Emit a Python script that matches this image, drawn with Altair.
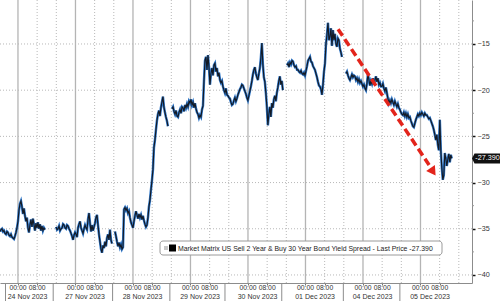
import altair as alt
import pandas as pd

# ---------------- data ----------------
# compressed trading-time axis: hours since 24 Nov 2023 00:00 (weekend removed)
day_labels = ["24 Nov 2023", "27 Nov 2023", "28 Nov 2023", "29 Nov 2023",
              "30 Nov 2023", "01 Dec 2023", "04 Dec 2023", "05 Dec 2023"]
time_labels = ["00:00", "08:00"]
session_breaks = [-5.2, 14.7, 39.5, 63.4, 86.4, 110.1, 135.8, 159.4]
seg_start_hours = [-7.5, 15.9, 40.5, 64.3, 112.3, 136.9]
bar_minutes = 25

seg_a = [-35.3, -35.1, -35.0, -35.3, -35.2, -35.5, -35.6, -35.3, -35.4, -35.7,
         -35.8, -35.6, -35.9, -36.0, -36.1, -35.8, -35.4, -34.9, -34.2, -33.0,
         -32.3, -32.0, -32.6, -33.4, -32.8, -33.6, -34.2, -33.8, -34.9, -35.4,
         -34.6, -34.0, -34.8, -33.9, -34.5, -35.2, -34.4, -34.9, -34.3, -35.0,
         -34.5, -35.2, -34.7, -35.2, -34.9, -35.1]
seg_b = [-34.8, -35.1, -35.0, -34.7, -35.2, -35.0, -34.9, -34.5, -34.6, -34.9,
         -35.0, -34.6, -34.7, -35.0, -35.2, -35.5, -35.8, -36.2, -35.7, -35.4,
         -35.6, -35.9, -34.9, -34.5, -34.2, -34.9, -35.2, -35.5, -35.0, -34.6,
         -34.9, -35.1, -34.0, -33.3, -34.4, -35.3, -34.6, -35.2, -34.8, -34.4,
         -33.8, -33.5, -34.6, -35.6, -36.4, -37.2, -37.6, -36.8, -37.1, -36.4,
         -36.9, -36.0, -35.6, -36.2, -35.1, -36.2, -36.6]
seg_c = [-35.3, -35.8, -36.4, -36.9, -36.5, -37.0, -36.7, -37.2, -37.0, -32.9,
         -32.7, -33.0, -32.8, -33.3, -33.1, -33.8, -34.3, -34.6, -34.9, -34.2,
         -33.6, -33.1, -33.5, -33.9, -33.4, -33.8, -33.5, -34.0, -33.6, -34.1,
         -34.5, -34.8, -34.6, -33.8, -32.6, -31.9, -30.8, -29.8, -28.6, -26.2,
         -25.4, -24.3, -23.3, -22.6, -22.2, -22.8, -21.9, -21.3, -20.7, -21.8,
         -22.4, -22.9, -23.3, -23.9]
seg_d = [-22.0, -21.8, -22.3, -22.6, -22.2, -22.8, -22.9, -22.4, -22.1, -22.5,
         -21.8, -21.9, -22.3, -21.6, -21.9, -21.5, -21.8, -21.2, -21.4, -21.0,
         -21.6, -21.3, -21.9, -21.4, -22.0, -22.4, -22.6, -23.0, -22.7, -22.9,
         -22.1, -21.7, -19.0, -16.8, -16.4, -17.8, -16.2, -17.5, -19.4, -18.2,
         -17.6, -18.4, -17.3, -17.1, -18.0, -17.6, -18.5, -18.1, -18.9, -19.2,
         -19.0, -19.6, -20.0, -20.3, -19.8, -20.5, -20.6,
         -20.8, -20.9, -21.3, -21.6, -21.5, -21.1, -20.8, -21.2, -20.9, -20.5,
         -20.2, -19.9, -19.7, -19.4, -19.5, -19.8, -20.1, -20.4, -20.8, -21.1,
         -20.6, -20.1, -19.6, -19.0, -18.3, -17.8, -17.5, -18.2, -18.6, -18.9,
         -18.2, -17.6, -16.5, -14.9, -17.2, -18.6, -19.1, -20.3, -21.8, -23.8,
         -22.6, -21.8, -22.9, -21.4, -21.9, -21.0, -20.6, -21.2, -20.3, -19.7,
         -19.0, -18.5, -19.4, -19.0, -20.0]
seg_f = [-17.3, -17.1, -17.5, -17.0, -17.2, -16.8, -16.9, -17.3, -17.5, -17.4,
         -17.8, -17.8, -18.0, -18.1, -17.9, -18.2, -18.3, -18.1, -18.4, -17.9,
         -17.4, -16.8, -16.6, -16.4, -16.9, -17.0, -17.4, -17.6, -17.8, -18.2,
         -18.6, -19.1, -19.5, -19.6, -19.9, -20.5, -19.4, -18.0, -17.1, -15.0,
         -14.0, -12.7, -14.6, -14.2, -13.3, -15.2, -13.5, -14.6, -13.9, -15.0,
         -15.3, -14.4, -14.6, -15.5, -15.9, -16.4]
seg_g = [-18.2, -18.0, -18.4, -18.7, -18.9, -18.6, -18.3, -18.6, -18.4, -18.5,
         -18.9, -18.7, -19.1, -18.8, -19.2, -19.0, -19.3, -19.6, -19.4, -19.8,
         -20.0, -19.3, -18.2, -18.9, -19.5, -19.0, -19.3, -18.7, -19.4, -18.9,
         -18.5, -19.1, -18.7, -19.4, -19.2, -19.6, -19.6, -19.3, -19.8, -20.1,
         -19.7, -20.3, -20.9, -21.4, -21.1, -21.4, -21.0, -21.3, -21.6, -21.2,
         -21.5, -21.8, -21.5, -21.9, -22.1, -22.4, -22.6,
         -22.7, -22.4, -22.8, -22.5, -22.9, -22.6, -23.0, -22.9, -23.3, -23.6,
         -23.9, -24.0, -23.6, -23.2, -22.9, -22.6, -22.8, -22.5, -22.7, -22.4,
         -22.6, -22.8, -22.5, -22.7, -22.7, -22.9, -23.1, -23.0, -23.3, -23.6,
         -23.9, -24.3, -24.8, -25.4, -24.8, -25.9, -26.5, -23.2, -26.5, -28.4,
         -29.7, -29.2, -26.8, -27.4, -28.2, -27.5, -26.9, -27.8, -27.0, -27.39]
segments = [seg_a, seg_b, seg_c, seg_d, seg_f, seg_g]

last_price = -27.39
legend_text = "Market Matrix US Sell 2 Year & Buy 30 Year Bond Yield Spread - Last Price -27.390"
y_ticks = [-15, -20, -25, -30, -35, -40]
y_minor = [-12.5, -17.5, -22.5, -27.5, -32.5, -37.5]
arrow_start = (133.6, -13.4)
arrow_end = (171.6, -28.1)
arrow_head = (172.9, -28.7)

# ---------------- build tables ----------------
rows = []
for s, (start, vals) in enumerate(zip(seg_start_hours, segments)):
    for i, v in enumerate(vals):
        rows.append({"t": start + i * bar_minutes / 60.0, "v": v, "seg": s})
series = pd.DataFrame(rows)

X_DOM = [-7.5, 189.5]
Y_DOM = [-40.87, -10.24]
xs = alt.Scale(domain=X_DOM, nice=False, zero=False)
ys = alt.Scale(domain=Y_DOM, nice=False, zero=False)

tick_vals = [h for k in range(len(day_labels)) for h in (24 * k, 24 * k + 8)]
x_axis = alt.Axis(values=tick_vals, labels=False, grid=False, domainColor="#8c8c8c",
                  domainWidth=1, tickColor="#777", tickSize=2, title=None)
y_axis = alt.Axis(orient="right", values=y_ticks, grid=False, domainColor="#8c8c8c",
                  domainWidth=1, tickColor="#111", tickSize=3, tickWidth=1.5,
                  labelFontSize=7.2, labelFont="Liberation Sans", labelColor="#333",
                  labelPadding=2, title=None, labelExpr="format(datum.value, 'd')",
                  labelFlush=False, labelOverlap=False)


def X(field="t:Q"):
    return alt.X(field, scale=xs, axis=x_axis)


def Y(field="v:Q"):
    return alt.Y(field, scale=ys, axis=y_axis)


midnights = pd.DataFrame({"t": [24 * k for k in range(len(day_labels))]})
dotted_v = pd.DataFrame({"t": [h for k in range(-1, 8) for h in (24 * k + 8, 24 * k + 16)
                               if X_DOM[0] < h < X_DOM[1]]})
grid_h = pd.DataFrame({"v": y_ticks})
minor_df = pd.DataFrame({"v": y_minor})
breaks_df = pd.DataFrame({"t": session_breaks})
dates_df = pd.DataFrame({"t": [24 * k + 4 for k in range(len(day_labels))], "label": day_labels})
times_df = pd.DataFrame({"t": tick_vals,
                         "label": [time_labels[i % 2] for i in range(len(tick_vals))]})

W, H = 472, 283

grid_solid = alt.Chart(midnights).mark_rule(color="#b4b4b4", strokeWidth=1.3).encode(x=X())
grid_dot_v = alt.Chart(dotted_v).mark_rule(color="#b8b8b8", strokeWidth=1, strokeDash=[1, 2]).encode(x=X())
grid_dot_h = alt.Chart(grid_h).mark_rule(color="#b8b8b8", strokeWidth=1, strokeDash=[1, 2]).encode(y=Y())

line_blue = alt.Chart(series).mark_line(color="#3079cc", strokeWidth=2.5).encode(
    x=X(), y=Y(), detail="seg:N")
line_dark = alt.Chart(series).mark_line(color="#141a24", strokeWidth=1.15).encode(
    x=X(), y=Y(), detail="seg:N")

minor_ticks = alt.Chart(minor_df).mark_rule(color="#999", strokeWidth=1).encode(
    y=Y(), x=alt.value(W), x2=alt.value(W + 2))

break_ticks = alt.Chart(breaks_df).mark_rule(color="#8c8c8c", strokeWidth=1).encode(
    x=X(), y=alt.value(H), y2=alt.value(H + 18))

times = alt.Chart(times_df).mark_text(fontSize=6.8, font="Liberation Sans", color="#333",
                                      baseline="middle").encode(
    x=X(), y=alt.value(H + 5), text="label:N")
dates = alt.Chart(dates_df).mark_text(fontSize=7, font="Liberation Sans", color="#333",
                                      baseline="middle").encode(
    x=X(), y=alt.value(H + 14), text="label:N")

arrow_df = pd.DataFrame({"t": [arrow_start[0]], "v": [arrow_start[1]],
                         "t2": [arrow_end[0]], "v2": [arrow_end[1]]})
arrow = alt.Chart(arrow_df).mark_rule(color="#e3241b", strokeWidth=3.5, strokeDash=[8, 4]).encode(
    x=X(), y=Y(), x2="t2:Q", y2="v2:Q")
head_df = pd.DataFrame({"t": [arrow_head[0]], "v": [arrow_head[1]]})
head = alt.Chart(head_df).mark_point(shape="triangle", filled=True, color="#e3241b", size=110,
                                     angle=146, opacity=1).encode(x=X(), y=Y())

legend_box = alt.Chart(pd.DataFrame({"a": [0]})).mark_rect(
    fill="white", stroke="#9a9a9a", strokeWidth=1, cornerRadius=3).encode(
    x=alt.value(160), x2=alt.value(442), y=alt.value(241), y2=alt.value(255))
legend_sq1 = alt.Chart(pd.DataFrame({"a": [0]})).mark_rect(fill="#c8c8c8").encode(
    x=alt.value(164), x2=alt.value(168), y=alt.value(246), y2=alt.value(250))
legend_sq2 = alt.Chart(pd.DataFrame({"a": [0]})).mark_rect(fill="#000").encode(
    x=alt.value(169), x2=alt.value(176), y=alt.value(244.5), y2=alt.value(251.5))
legend_txt = alt.Chart(pd.DataFrame({"label": [legend_text]})).mark_text(
    fontSize=6.9, font="Liberation Sans", color="#222", align="left", baseline="middle").encode(
    x=alt.value(178), y=alt.value(248.5), text="label:N")

price_df = pd.DataFrame({"v": [last_price], "label": [f"{last_price:.3f}"]})
price_tag = alt.Chart(price_df).mark_point(
    shape="M-1,0L-0.82,-0.36L1,-0.36L1,0.36L-0.82,0.36Z", filled=True, fill="#111",
    strokeWidth=0, size=784, opacity=1).encode(
    x=alt.value(W + 14), y=Y())
price_txt = alt.Chart(price_df).mark_text(fontSize=7.2, font="Liberation Sans", color="white",
                                          baseline="middle", align="center").encode(
    x=alt.value(W + 15.5), y=Y(), text="label:N")

chart = alt.layer(
    grid_solid, grid_dot_v, grid_dot_h, line_blue, line_dark, minor_ticks, break_ticks,
    times, dates, arrow, head, legend_box, legend_sq1, legend_sq2, legend_txt,
    price_tag, price_txt
).properties(
    width=W, height=H,
    autosize=alt.AutoSizeParams(type="none"),
    padding={"left": 0, "top": 0, "right": 28, "bottom": 18},
    background="white"
).configure_view(stroke=None)

chart.save("out.html", embed_options={"renderer": "svg", "actions": False})
